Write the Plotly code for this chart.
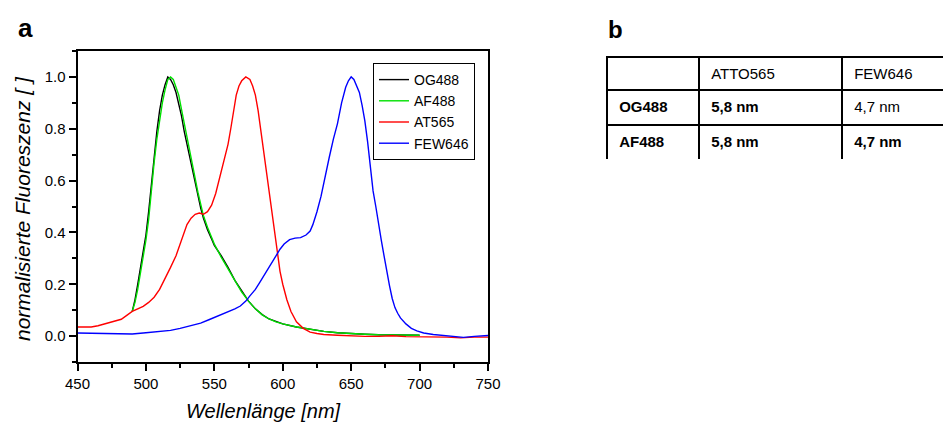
import plotly.graph_objects as go

# ---------------------------------------- spectra ----------
wl_og = [490, 492, 494, 496, 498, 500, 502, 504, 506, 508, 510, 512, 514, 516, 518, 520,
         522, 524, 526, 528, 530, 532, 534, 536, 538, 540, 542, 545, 548, 550, 555, 558,
         560, 565, 570, 575, 580, 585, 590, 595, 600, 610, 620, 630, 640, 650, 660, 670,
         680, 690, 700]
og488 = [0.095, 0.14, 0.20, 0.26, 0.32, 0.39, 0.48, 0.59, 0.70, 0.79, 0.87, 0.93, 0.97, 1.0,
         0.99, 0.97, 0.94, 0.90, 0.85, 0.79, 0.74, 0.69, 0.635, 0.585, 0.54, 0.495, 0.455,
         0.41, 0.375, 0.35, 0.31, 0.285, 0.265, 0.215, 0.175, 0.135, 0.105, 0.083, 0.066,
         0.055, 0.047, 0.035, 0.026, 0.018, 0.013, 0.009, 0.007, 0.005, 0.004, 0.004, 0.003]

wl_af = [490, 492, 494, 496, 498, 500, 502, 504, 506, 508, 510, 512, 514, 516, 518, 520,
         522, 524, 526, 528, 530, 532, 534, 536, 538, 540, 542, 545, 548, 550, 555, 560,
         565, 570, 575, 580, 585, 590, 595, 600, 610, 620, 630, 640, 650, 660, 670, 680,
         690, 700]
af488 = [0.095, 0.13, 0.18, 0.24, 0.30, 0.37, 0.45, 0.565, 0.67, 0.76, 0.84, 0.90, 0.95,
         0.99, 1.0, 0.99, 0.96, 0.93, 0.875, 0.82, 0.77, 0.71, 0.66, 0.60, 0.555, 0.51,
         0.465, 0.42, 0.38, 0.355, 0.305, 0.26, 0.21, 0.17, 0.135, 0.105, 0.082, 0.066,
         0.055, 0.047, 0.035, 0.026, 0.018, 0.013, 0.009, 0.007, 0.005, 0.004, 0.004, 0.003]

wl_at = [450, 455, 460, 465, 470, 475, 478, 482, 486, 490, 494, 498, 502, 506, 510, 514,
         518, 522, 526, 530, 533, 536, 539, 542, 545, 548, 551, 554, 557, 560, 562, 564,
         566, 568, 570, 573, 576, 578, 580, 582, 584, 586, 588, 590, 592, 594, 596, 598,
         600, 603, 606, 610, 615, 620, 625, 630, 640, 650, 660, 670, 680, 690, 700, 710,
         720, 730, 740, 750]
at565 = [0.035, 0.036, 0.035, 0.04, 0.048, 0.056, 0.06, 0.065, 0.08, 0.095, 0.105, 0.115,
         0.13, 0.15, 0.18, 0.22, 0.265, 0.31, 0.37, 0.43, 0.455, 0.47, 0.475, 0.47, 0.48,
         0.505, 0.55, 0.61, 0.67, 0.74, 0.80, 0.87, 0.93, 0.965, 0.985, 1.0, 0.99, 0.965,
         0.93, 0.87, 0.79, 0.71, 0.63, 0.55, 0.47, 0.39, 0.31, 0.25, 0.20, 0.14, 0.095,
         0.055, 0.03, 0.015, 0.01, 0.006, 0.003, 0.0, -0.001, -0.001, 0.001, -0.002, -0.002,
         -0.003, -0.004, -0.007, -0.004, -0.004]

wl_few = [450, 460, 470, 480, 490, 500, 510, 518, 525, 533, 540, 546, 552, 559, 565, 569,
          573, 576, 580, 583, 587, 591, 595, 598, 601, 605, 609, 613, 617, 620, 622, 625,
          628, 631, 634, 637, 640, 643, 646, 648, 650, 652, 654, 656, 658, 660, 662, 664,
          666, 668, 670, 672, 674, 676, 678, 680, 682, 684, 686, 690, 694, 698, 703, 710,
          715, 720, 725, 732, 740, 750]
few646 = [0.012, 0.011, 0.01, 0.009, 0.008, 0.013, 0.017, 0.022, 0.03, 0.04, 0.05, 0.063,
          0.076, 0.09, 0.105, 0.116, 0.135, 0.155, 0.18, 0.205, 0.24, 0.27, 0.305, 0.335,
          0.355, 0.372, 0.378, 0.38, 0.39, 0.405, 0.43, 0.48, 0.54, 0.62, 0.69, 0.76, 0.82,
          0.90, 0.96, 0.985, 1.0, 0.99, 0.965, 0.94, 0.89, 0.83, 0.75, 0.66, 0.56, 0.50,
          0.43, 0.37, 0.31, 0.245, 0.195, 0.145, 0.11, 0.088, 0.07, 0.047, 0.03, 0.02, 0.012,
          0.006, 0.004, 0.002, -0.002, -0.005, -0.001, 0.002]

# ---------------------------------------- table b ---------------------------------
donors = ["OG488", "AF488"]
acceptors = ["ATTO565", "FEW646"]
distances = [["5,8 nm", "4,7 nm"],
             ["5,8 nm", "4,7 nm"]]
bold = [[True, False],
        [True, True]]

FONT = "Liberation Sans, Arial, sans-serif"
W, H, OFF = 951, 424, 8   # page body has an 8px margin


def px(x):
    return (x - OFF) / W


def py(y):
    return 1 - (y - OFF) / H


fig = go.Figure()
series = [("OG488", wl_og, og488, "black"),
          ("AF488", wl_af, af488, "#00e000"),
          ("AT565", wl_at, at565, "red"),
          ("FEW646", wl_few, few646, "blue")]
for name, x, y, col in series:
    fig.add_trace(go.Scatter(x=x, y=y, name=name, mode="lines",
                             line=dict(color=col, width=1.4)))


def fmt(txt, b):
    return "&nbsp;" + ("<b>%s</b>" % txt if b else txt)


header_vals = [""] + ["&nbsp;" + a for a in acceptors]
cell_vals = [[fmt(d, True) for d in donors]]
for j in range(len(acceptors)):
    cell_vals.append([fmt(distances[i][j], bold[i][j]) for i in range(len(donors))])

fig.add_trace(go.Table(
    domain=dict(x=[px(607), 1.0], y=[py(159), py(57)]),
    columnwidth=[92, 143, 117],
    header=dict(values=header_vals, align="left", height=33,
                line=dict(color="black", width=2), fill=dict(color="white"),
                font=dict(family=FONT, size=15, color="black")),
    cells=dict(values=cell_vals, align="left", height=35,
               line=dict(color="black", width=2), fill=dict(color="white"),
               font=dict(family=FONT, size=15, color="black")),
))

axis_common = dict(showline=True, linewidth=2, linecolor="black", mirror=True,
                   ticks="outside", ticklen=7, tickwidth=1.5, tickcolor="black",
                   showgrid=False, zeroline=False, automargin=False,
                   tickfont=dict(family=FONT, size=15, color="black"))

fig.update_layout(
    template="none",
    width=W, height=H,
    margin=dict(l=0, r=0, t=0, b=0, pad=0),
    plot_bgcolor="white", paper_bgcolor="white",
    font=dict(family=FONT, color="black"),
    xaxis=dict(range=[450, 750], tick0=450, dtick=50,
               domain=[px(77.5), px(488)],
               minor=dict(dtick=25, ticks="outside", ticklen=4, tickcolor="black", tickwidth=1.5),
               **axis_common),
    yaxis=dict(range=[-0.1, 1.1], tick0=0, dtick=0.2, tickformat=".1f",
               domain=[py(362), py(51)],
               minor=dict(dtick=0.1, ticks="outside", ticklen=4, tickcolor="black", tickwidth=1.5),
               **axis_common),
    legend=dict(x=px(373), y=py(63), xanchor="left", yanchor="top",
                bordercolor="black", borderwidth=1, bgcolor="white",
                font=dict(family=FONT, size=14, color="black"),
                tracegroupgap=0),
    showlegend=True,
)

labels = [("<i>Wellenlänge [nm]</i>", 263, 411, 20, 0),
          ("<i>normalisierte Fluoreszenz [ ]</i>", 22, 209, 21, -90),
          ("<b>a</b>", 25, 28, 26, 0),
          ("<b>b</b>", 615, 29, 24, 0)]
for txt, x, y, size, ang in labels:
    fig.add_annotation(text=txt, x=px(x), y=py(y), xref="paper", yref="paper",
                       xanchor="center", yanchor="middle", showarrow=False,
                       textangle=ang, font=dict(family=FONT, size=size, color="black"))

fig.write_html("out.html")
